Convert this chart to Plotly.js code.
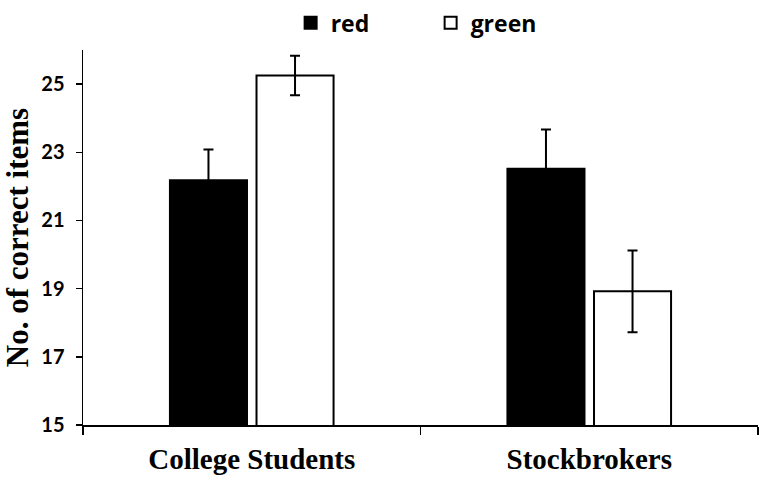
<!DOCTYPE html>
<html>
<head>
<meta charset="utf-8">
<script src="https://cdn.plot.ly/plotly-3.0.1.min.js"></script>
<style>html,body{margin:0;padding:0;background:#fff;}#chart{width:768px;height:482px;}</style>
</head>
<body>
<div id="chart"></div>
<script>
const categories = ["College Students", "Stockbrokers"];
const redValues = [22.18, 22.52];
const redErrors = [0.9, 1.15];
const greenValues = [25.25, 18.92];
const greenErrors = [0.58, 1.2];
const yTicks = [15, 17, 19, 21, 23, 25];

const errStyle = {type: 'data', visible: true, color: '#000', thickness: 2, width: 5};

const traces = [
  {type: 'bar', name: 'red', x: categories, y: redValues,
   error_y: Object.assign({array: redErrors}, errStyle),
   marker: {color: '#000', line: {color: '#000', width: 2}}},
  {type: 'bar', name: 'green', x: categories, y: greenValues,
   error_y: Object.assign({array: greenErrors}, errStyle),
   marker: {color: '#fff', line: {color: '#000', width: 2}}}
];

const layout = {
  width: 768, height: 482,
  paper_bgcolor: '#fff', plot_bgcolor: '#fff',
  margin: {l: 83, r: 10, t: 50, b: 57, autoexpand: false},
  barmode: 'group', bargap: 0.487, bargroupgap: 0.11,
  showlegend: true,
  legend: {orientation: 'h', x: 0.515, xanchor: 'center', y: 1.13, yanchor: 'top',
           entrywidth: 95, entrywidthmode: 'pixels',
           font: {family: '"Open Sans", sans-serif', size: 23, color: '#000', weight: 'bold'}},
  xaxis: {type: 'category', showline: true, linecolor: '#000', linewidth: 1.5,
          ticks: 'outside', tickson: 'boundaries', ticklen: 8, tickcolor: '#000', tickwidth: 1.5,
          showgrid: false, zeroline: false, ticklabelstandoff: 8,
          tickfont: {family: '"Liberation Serif", "Times New Roman", serif', size: 29, color: '#000', weight: 'bold'}},
  yaxis: {range: [15, 26], tickvals: yTicks, showline: true, linecolor: '#000', linewidth: 1.5,
          ticks: 'outside', ticklen: 6, tickcolor: '#000', tickwidth: 1.5,
          showgrid: false, zeroline: false, ticklabelstandoff: 7,
          tickfont: {family: 'Lato, sans-serif', size: 20, color: '#000', weight: 'bold'},
          title: {text: 'No. of correct items', standoff: 4,
                  font: {family: '"Liberation Serif", "Times New Roman", serif', size: 31, color: '#000', weight: 'bold'}}}
};

Plotly.newPlot('chart', traces, layout, {displayModeBar: false, staticPlot: true});
</script>
</body>
</html>
